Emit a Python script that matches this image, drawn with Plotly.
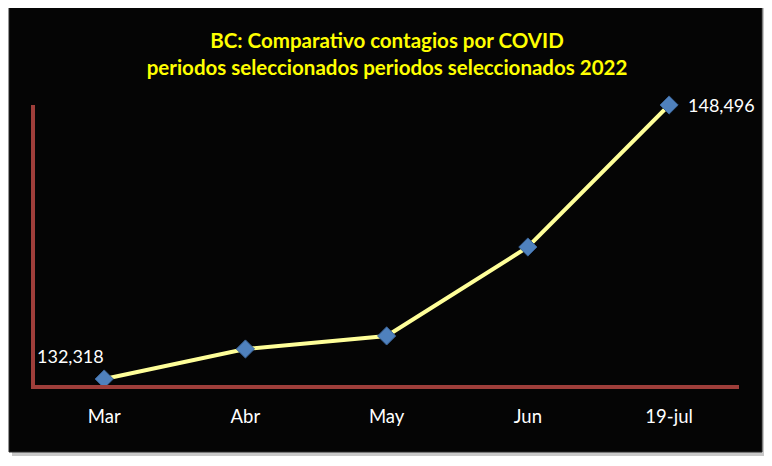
import plotly.graph_objects as go

categories = ["Mar", "Abr", "May", "Jun", "19-jul"]
contagios = [132318, 134090, 134860, 140110, 148496]
title_lines = ["BC: Comparativo contagios por COVID",
               "periodos seleccionados periodos seleccionados 2022"]

first, last = 0, len(contagios) - 1

fig = go.Figure()
fig.add_trace(go.Scatter(
    x=categories, y=contagios, mode="lines+markers",
    line=dict(color="#FFFF99", width=4),
    marker=dict(symbol="diamond", size=14, color="#4F81BD",
                line=dict(color="#3A6396", width=1)),
    cliponaxis=False, hoverinfo="skip", showlegend=False,
))

fig.add_annotation(x=categories[first], y=contagios[first], text=f"{contagios[first]:,}",
                   showarrow=False, xanchor="center", yanchor="bottom",
                   xshift=-34, yshift=10,
                   font=dict(color="white", size=18, family="Lato"))
fig.add_annotation(x=categories[last], y=contagios[last], text=f"{contagios[last]:,}",
                   showarrow=False, xanchor="left", yanchor="middle",
                   xshift=17, yshift=0,
                   font=dict(color="white", size=18, family="Lato"))

# shadow + black panel (pixel-sized relative to plot area)
fig.add_shape(type="rect", layer="below", xref="paper", yref="paper",
              xsizemode="pixel", ysizemode="pixel", xanchor=0, yanchor=0,
              x0=-23, x1=731, y0=-71, y1=377,
              fillcolor="#C8C8C8", line=dict(width=0))
fig.add_shape(type="rect", layer="below", xref="paper", yref="paper",
              xsizemode="pixel", ysizemode="pixel", xanchor=0, yanchor=0,
              x0=-26, x1=727, y0=-67, y1=380,
              fillcolor="#050505", line=dict(color="#2A2A2A", width=1))

fig.update_layout(
    width=772, height=466,
    margin=dict(l=27, r=41, t=97, b=89),
    paper_bgcolor="white", plot_bgcolor="rgba(0,0,0,0)",
    title=dict(text="<b>" + "<br>".join(title_lines) + "</b>",
               x=0.5, xanchor="center", xref="paper",
               y=1 - 40 / 466, yanchor="top", yref="container",
               font=dict(color="#FFFF00", size=20.5, family="Lato")),
    font=dict(family="Lato"),
)
fig.update_xaxes(type="category", range=[-0.49, 4.495], showgrid=False,
                 zeroline=False, showline=True, linecolor="#9E3E3A", linewidth=4,
                 ticks="", ticklabelstandoff=12,
                 tickfont=dict(color="white", size=18.5, family="Lato"))
fig.update_yaxes(range=[131964, 148496], showgrid=False, zeroline=False,
                 showline=True, linecolor="#9E3E3A", linewidth=4,
                 showticklabels=False, ticks="")

fig.write_html("out.html")
